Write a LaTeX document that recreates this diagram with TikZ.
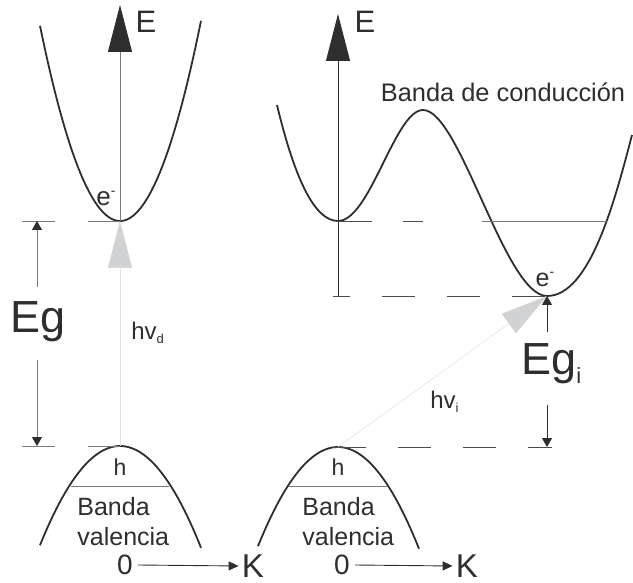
\documentclass[tikz,border=0pt]{standalone}
\usepackage{fontspec}
\setmainfont{Liberation Sans}
\usetikzlibrary{arrows.meta}
\definecolor{ink}{HTML}{2E2E2E}
\definecolor{guidegray}{HTML}{7A7A7A}
\definecolor{photon}{HTML}{D0D2D4}
\definecolor{faint}{HTML}{E2E2E2}
\begin{document}
\begin{tikzpicture}[x=0.5pt, y=-0.5pt,
  band/.style={line width=0.9pt, ink},
  guide/.style={line width=0.4pt, guidegray},
  dashline/.style={line width=0.4pt, ink!85, dash pattern=on 16.5pt off 16pt},
  bigtip/.style={-{Triangle[length=23.5pt, width=12pt, color=ink]}},
  phototip/.style={line width=0.3pt, faint, -{Triangle[length=23.5pt, width=12pt, color=photon]}},
  smalltip/.style={-{Triangle[length=4.5pt, width=5pt, color=ink]}},
  ktip/.style={line width=0.45pt, ink, -{Triangle[length=5pt, width=4.5pt]}},
  lbl/.style={inner sep=0pt, text=ink}]
\useasboundingbox (0,0) rectangle (633,583);
% gap directo
\coordinate (cL) at (120,221);
\coordinate (vL) at (120,446);
\coordinate (EL) at (120,5);
\draw[band] plot[domain=-80:81, samples=60] ({120+\x}, {221-0.0305*\x*\x});
\draw[band] plot[domain=-80:81, samples=60] ({120+\x}, {446+0.0155*\x*\x});
\draw[guide] (71,486) -- (169,486);
\draw[guide, bigtip] (cL) -- (EL);
\draw[phototip] (vL) -- (cL);
\draw[guide] (88,221) -- (cL);
\draw[guide] (88,446) -- (vL);
\node[lbl, font=\fontsize{15.5}{15.5}\selectfont] (EdL) at (146,22) {E};
\node[lbl, font=\fontsize{13}{13}\selectfont] (eL) at (106,198) {e\raisebox{5pt}{\fontsize{7}{7}\selectfont -}};
\node[lbl, font=\fontsize{12}{12}\selectfont, anchor=west] (hvd) at (131,333) {hv\raisebox{-2pt}{\fontsize{6.5}{6.5}\selectfont d}};
\node[lbl, font=\fontsize{11.5}{11.5}\selectfont] (hL) at (120,467) {h};
\node[lbl, font=\fontsize{12.5}{15}\selectfont, align=left, anchor=west] (vbL) at (77,522) {Banda\\valencia};
% Eg
\coordinate (eg1) at (37,221);
\coordinate (eg2) at (37,446);
\node[lbl, font=\fontsize{22.5}{22.5}\selectfont] (Eg) at (38,322) {Eg};
\draw[guide] (22,221) -- (55,221);
\draw[guide] (22,446) -- (55,446);
\draw[guide, smalltip] (37,287) -- (eg1);
\draw[guide, smalltip] (37,360) -- (eg2);
% eje K
\node[lbl, font=\fontsize{14}{14}\selectfont] (zeroL) at (125,565) {0};
\node[lbl, font=\fontsize{16.5}{16.5}\selectfont] (KL) at (253,566) {K};
\draw[ktip] ([xshift=2.5pt]zeroL.east) -- ([xshift=-1.5pt]KL.west);
% gap indirecto
\coordinate (cR1) at (338,221);
\coordinate (cR2) at (547,296);
\coordinate (vR) at (338,447);
\coordinate (ER) at (338,14);
\draw[band] (277,105) .. controls (295,180) and (315,221) .. (cR1)
  .. controls (370,221) and (395,110) .. (423,110)
  .. controls (460,110) and (505,296) .. (cR2)
  .. controls (590,296) and (615,200) .. (632,135);
\draw[band] plot[domain=-80:81, samples=60] ({338+\x}, {447+0.0155*\x*\x});
\draw[guide] (289,486) -- (387,486);
\draw[line width=0.45pt, ink, bigtip] (338,296) -- (ER);
\draw[dashline, dash pattern=on 17pt off 15.5pt] (cR1) -- (423,221);
\draw[guide] (482,221) -- (607,221);
\draw[dashline, dash phase=8pt] (333,296) -- (cR2);
\draw[dashline] (333,447) -- (552,447);
\draw[phototip] (vR) -- (cR2);
\node[lbl, font=\fontsize{15.5}{15.5}\selectfont] (EdR) at (365,22) {E};
\node[lbl, font=\fontsize{12.7}{12.7}\selectfont] (cb) at (503,92) {Banda de conducción};
\node[lbl, font=\fontsize{12.5}{12.5}\selectfont] (eR) at (545,279) {e\raisebox{5pt}{\fontsize{7}{7}\selectfont -}};
\node[lbl, font=\fontsize{12}{12}\selectfont, anchor=west] (hvi) at (430,402) {hv\raisebox{-2pt}{\fontsize{6.5}{6.5}\selectfont i}};
\node[lbl, font=\fontsize{11.5}{11.5}\selectfont] (hR) at (338,467) {h};
\node[lbl, font=\fontsize{12.5}{15}\selectfont, align=left, anchor=west] (vbR) at (302,522) {Banda\\valencia};
% Eg_i
\coordinate (egi2) at (547,447);
\node[lbl, font=\fontsize{22.5}{22.5}\selectfont, anchor=west] (Egi) at (521,364) {Eg\raisebox{-4.5pt}{\fontsize{11}{11}\selectfont i}};
\draw[guide, ink, smalltip] (547,332) -- (cR2);
\draw[guide, ink, smalltip] (547,405) -- (egi2);
% eje K
\node[lbl, font=\fontsize{14}{14}\selectfont] (zeroR) at (342,565) {0};
\node[lbl, font=\fontsize{16.5}{16.5}\selectfont] (KR) at (467,566) {K};
\draw[ktip] ([xshift=2.5pt]zeroR.east) -- ([xshift=-1.5pt]KR.west);
\end{tikzpicture}
\end{document}
